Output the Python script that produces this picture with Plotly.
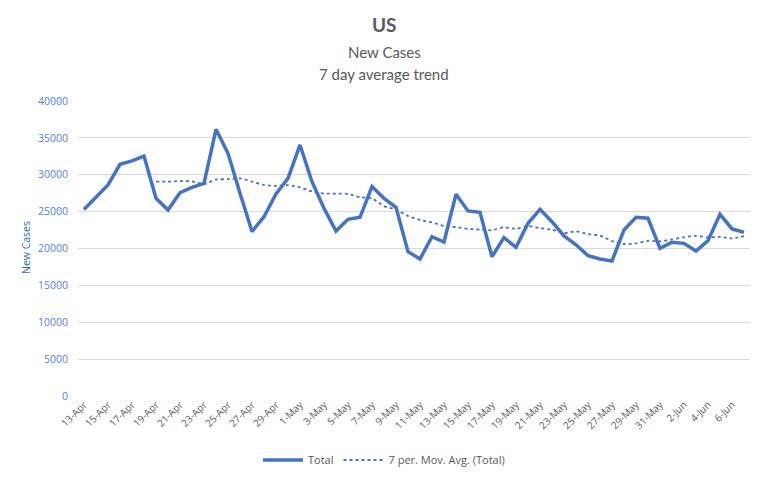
import plotly.graph_objects as go

dates = ["13-Apr","14-Apr","15-Apr","16-Apr","17-Apr","18-Apr","19-Apr","20-Apr","21-Apr","22-Apr",
         "23-Apr","24-Apr","25-Apr","26-Apr","27-Apr","28-Apr","29-Apr","30-Apr","1-May","2-May",
         "3-May","4-May","5-May","6-May","7-May","8-May","9-May","10-May","11-May","12-May",
         "13-May","14-May","15-May","16-May","17-May","18-May","19-May","20-May","21-May","22-May",
         "23-May","24-May","25-May","26-May","27-May","28-May","29-May","30-May","31-May","1-Jun",
         "2-Jun","3-Jun","4-Jun","5-Jun","6-Jun","7-Jun"]

total = [25300, 26940, 28610, 31420, 31870, 32540, 26800, 25220, 27570, 28300,
         28840, 36160, 32900, 27500, 22300, 24310, 27390, 29520, 34040, 29060,
         25450, 22370, 23960, 24230, 28390, 26800, 25580, 19570, 18580, 21600,
         20880, 27350, 25090, 24910, 18890, 21470, 20160, 23420, 25320, 23640,
         21700, 20500, 19030, 18580, 18310, 22510, 24230, 24100, 20020, 20840,
         20700, 19660, 21060, 24640, 22650, 22200]

mov_avg = [None, None, None, None, None, None, 29070, 29057, 29147, 29103,
           28734, 29347, 29399, 29499, 29081, 28616, 28486, 28583, 28280, 27731,
           27439, 27449, 27399, 26947, 26786, 25751, 25254, 24414, 23873, 23536,
           23057, 22909, 22664, 22569, 22471, 22884, 22679, 23041, 22751, 22544,
           22086, 22316, 21967, 21741, 21011, 20610, 20694, 21037, 20969, 21227,
           21530, 21723, 21516, 21574, 21367, 21679]

y_ticks = [0, 5000, 10000, 15000, 20000, 25000, 30000, 35000, 40000]
tick_dates = dates[::2]

blue = "#4472C4"
tick_blue = "#5580D8"
title_blue = "#2A6EBB"
gray = "#595959"
font_main = "Lato, sans-serif"
font_small = "Open Sans, sans-serif"

fig = go.Figure()
fig.add_trace(go.Scatter(x=dates, y=total, mode="lines", name="Total",
                         line=dict(color=blue, width=3.5)))
fig.add_trace(go.Scatter(x=dates, y=mov_avg, mode="lines", name="7 per. Mov. Avg. (Total)",
                         line=dict(color=blue, width=1.8, dash="dot", shape="spline", smoothing=0.6)))

cx = (384 - 78) / 672
fig.update_layout(
    width=768, height=480,
    margin=dict(l=78, r=18, t=101, b=84),
    paper_bgcolor="white", plot_bgcolor="white",
    showlegend=True,
    legend=dict(orientation="h", x=cx, xanchor="center", xref="paper",
                y=1 - 460 / 480, yanchor="middle", yref="container",
                font=dict(family=font_small, size=11, color=gray), itemwidth=40,
                tracegroupgap=0),
    annotations=[
        dict(text="<b>US</b>", x=cx, xref="paper", y=1.258, yref="paper", showarrow=False,
             xanchor="center", yanchor="middle",
             font=dict(family=font_main, size=19, color=gray)),
        dict(text="New Cases", x=cx, xref="paper", y=1.166, yref="paper", showarrow=False,
             xanchor="center", yanchor="middle",
             font=dict(family=font_main, size=15, color=gray)),
        dict(text="7 day average trend", x=cx, xref="paper", y=1.092, yref="paper", showarrow=False,
             xanchor="center", yanchor="middle",
             font=dict(family=font_main, size=15, color=gray)),
        dict(text="New Cases", x=(26 - 78) / 672, xref="paper", y=(396 - 248) / 295, yref="paper",
             showarrow=False, textangle=-90, xanchor="center", yanchor="middle",
             font=dict(family=font_small, size=10.5, color=title_blue)),
    ],
)

fig.update_xaxes(type="category", range=[-0.5, len(dates) - 0.5], automargin=False,
                 tickmode="array", tickvals=tick_dates, ticktext=tick_dates,
                 tickangle=-45, tickfont=dict(family=font_small, size=10, color=gray),
                 showgrid=False, showline=False, zeroline=False, ticks="")
fig.update_yaxes(range=[0, 40000], tickmode="array", tickvals=y_ticks, automargin=False,
                 ticktext=[str(v) for v in y_ticks],
                 tickfont=dict(family=font_small, size=10.5, color=tick_blue),
                 showgrid=True, gridcolor="#D9D9D9", gridwidth=1,
                 zeroline=False, showline=False, ticks="", ticklabelstandoff=9)

fig.write_html("out.html", config={"displayModeBar": False},
               post_script="document.body.style.margin='0';")
